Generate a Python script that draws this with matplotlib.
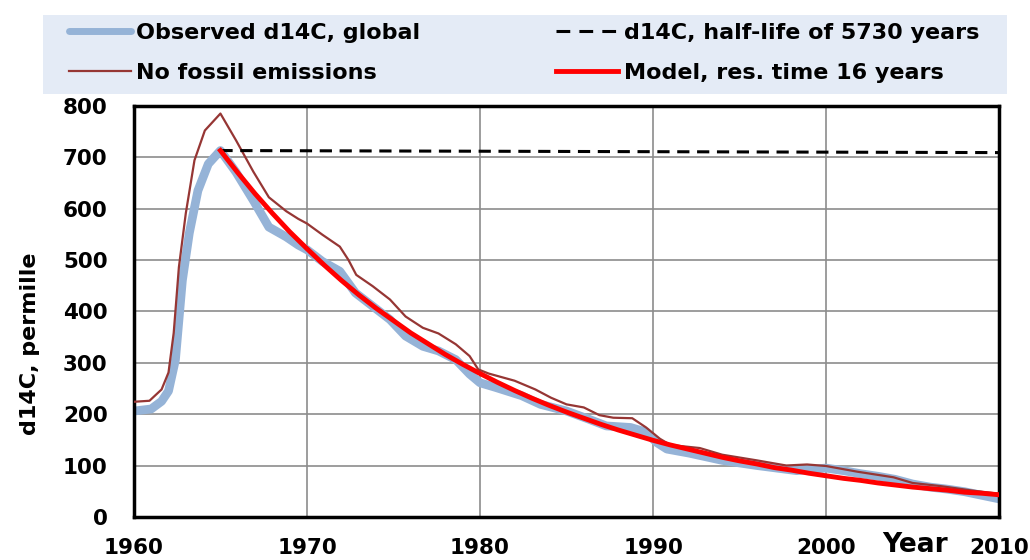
import matplotlib
matplotlib.use("Agg")
import matplotlib.pyplot as plt
from matplotlib.patches import Rectangle
import numpy as np

plt.rcParams["font.family"] = "DejaVu Sans"
plt.rcParams["font.weight"] = "bold"

# observed global d14C (permille)
obs_year = [1960.0, 1961.0, 1961.6, 1962.0, 1962.4, 1962.8, 1963.2, 1963.7, 1964.3, 1965.0,
            1965.9, 1966.9, 1967.8, 1968.8, 1969.5, 1970.0, 1970.9, 1971.9, 1972.8, 1973.8,
            1974.8, 1975.7, 1976.7, 1977.6, 1978.6, 1979.4, 1980.0, 1980.9, 1982.4, 1983.5,
            1985.0, 1986.3, 1987.3, 1988.7, 1989.6, 1990.2, 1990.8, 1992.1, 1994.0, 1996.0,
            1998.3, 1999.0, 2000.0, 2001.0, 2002.0, 2003.0, 2004.0, 2005.0, 2006.0, 2007.0,
            2008.0, 2009.0, 2010.0]
obs_d14c = [206, 210, 225, 245, 306, 460, 552, 635, 687, 713,
            671, 616, 564, 545, 529, 520, 497, 478, 436, 410,
            384, 352, 332, 323, 306, 278, 261, 252, 236, 219,
            206, 190, 177, 174, 165, 145, 132, 124, 110, 100,
            90, 92, 95, 90, 84, 79, 73, 64, 58, 54,
            49, 42, 35]

# d14C without fossil emissions
nof_year = [1960.0, 1960.9, 1961.6, 1962.0, 1962.3, 1962.6, 1963.0, 1963.5, 1964.1, 1965.0,
            1965.9, 1966.9, 1967.8, 1968.8, 1969.5, 1970.0, 1970.9, 1971.9, 1972.4, 1972.85,
            1973.8, 1974.8, 1975.7, 1976.7, 1977.6, 1978.6, 1979.4, 1979.9, 1980.5, 1982.0,
            1983.2, 1984.1, 1985.0, 1986.0, 1986.9, 1987.7, 1988.8, 1989.6, 1990.4, 1991.0,
            1992.7, 1994.0, 1996.0, 1997.7, 1998.9, 2000.0, 2001.8, 2003.9, 2005.0, 2006.6,
            2008.5, 2010.0]
nof_d14c = [224, 226, 248, 281, 358, 486, 591, 694, 752, 785,
            733, 672, 622, 595, 580, 571, 549, 526, 500, 471,
            449, 423, 390, 368, 357, 336, 313, 287, 279, 265,
            248, 232, 219, 213, 198, 193, 192, 174, 152, 140,
            134, 121, 110, 100, 102, 99, 88, 77, 66, 60,
            51, 45]

# radioactive decay only
hl_year = [1965, 2010]
hl_d14c = [713, 709]

# model, residence time 16 years
mod_year = list(range(1965, 2011))
mod_d14c = [713, 670, 629, 591, 555, 522, 490, 460, 432, 406,
            382, 358, 337, 316, 297, 279, 262, 246, 231, 217,
            204, 192, 180, 169, 159, 149, 140, 132, 124, 116,
            109, 103, 96, 91, 85, 80, 75, 71, 66, 62,
            58, 55, 52, 48, 46, 43]

fig = plt.figure(figsize=(10.3, 5.6), dpi=100)
ax = fig.add_axes([0.130, 0.077, 0.840, 0.734])

l1, = ax.plot(obs_year, obs_d14c, color="#95B3D7", lw=6.3, solid_capstyle="round",
              solid_joinstyle="round", label="Observed d14C, global", zorder=2)
l2, = ax.plot(nof_year, nof_d14c, color="#963634", lw=1.6, label="No fossil emissions", zorder=3)
l3, = ax.plot(hl_year, hl_d14c, color="black", lw=2.2, ls=(0, (4, 2.5)),
              label="d14C, half-life of 5730 years", zorder=4)
l4, = ax.plot(mod_year, mod_d14c, color="red", lw=3.5, label="Model, res. time 16 years", zorder=4)

ax.set_xlim(1960, 2010)
ax.set_ylim(0, 800)
ax.set_xticks(np.arange(1960, 2011, 10))
ax.set_yticks(np.arange(0, 801, 100))
ax.grid(True, color="#8c8c8c", lw=1.2)
ax.set_axisbelow(True)
for s in ax.spines.values():
    s.set_linewidth(2.5)
    s.set_color("black")
ax.tick_params(axis="both", length=0, labelsize=15.5)
ax.tick_params(axis="x", pad=15)
ax.tick_params(axis="y", pad=19)

fig.text(30 / 1030, 1 - 344 / 560, "d14C, permille", fontsize=16, fontweight="bold",
         rotation=90, ha="center", va="center")
fig.text(0.888, 1 - 552 / 560, "Year", fontsize=19, fontweight="bold", ha="center", va="baseline")

# legend panel across the top
fig.patches.append(Rectangle((43 / 1030, 1 - 94 / 560), 964 / 1030, 79 / 560,
                             transform=fig.transFigure, facecolor="#E4EBF6",
                             edgecolor="none", zorder=0))
leg = fig.legend(handles=[l1, l2, l3, l4], ncol=2, loc="center",
                 bbox_to_anchor=(524 / 1030, 1 - 53 / 560),
                 fontsize=16, frameon=False, handlelength=2.8, handletextpad=0.25,
                 labelspacing=0.9, columnspacing=6.1, borderpad=0, borderaxespad=0)
leg_lines = leg.get_lines()
leg_lines[0].set_linewidth(5)
leg_lines[2].set_dashes((4.5, 3))

fig.savefig("out.png", dpi=100)
